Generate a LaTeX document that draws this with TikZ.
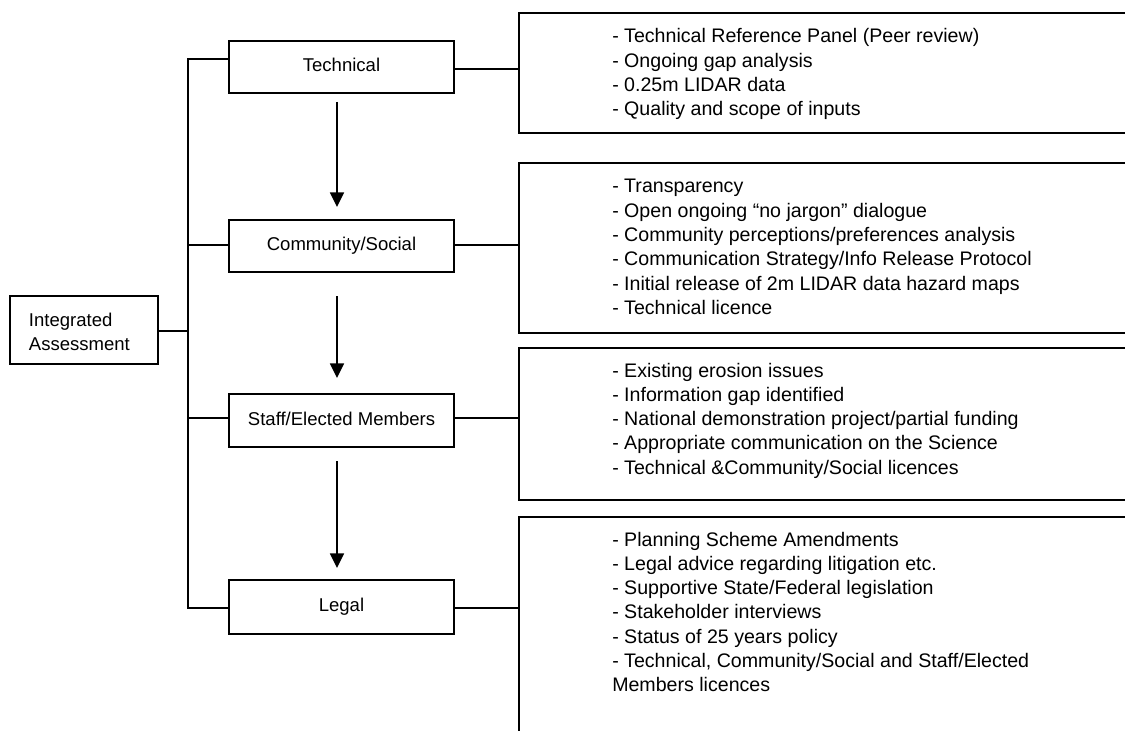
\documentclass[tikz,border=0pt]{standalone}
\usepackage{fontspec}
\setmainfont{Liberation Sans}
\usetikzlibrary{arrows.meta}
\tikzset{
  px/.style={x=0.75pt,y=-0.75pt},
  ln/.style={line width=1.3pt,black},
  lbox/.style={draw,ln,rectangle,inner sep=0pt,minimum width=168.75pt},
  rbox/.style={draw,ln,rectangle,inner sep=0pt,anchor=north west,minimum width=525pt},
  ltext/.style={anchor=base,inner sep=0pt,font=\fontsize{13.9}{18}\selectfont},
  iatext/.style={anchor=base west,inner sep=0pt,font=\fontsize{13.9}{18}\selectfont},
  rtext/.style={anchor=base west,inner sep=0pt,font=\fontsize{14.7}{18.2}\selectfont},
  arr/.style={ln,-{Triangle[width=10.5pt,length=11pt]}}
}
\begin{document}
\begin{tikzpicture}[px]
\useasboundingbox (0,0) rectangle (1125,731);
\clip (0,0) rectangle (1125,731);
\fill[white] (0,0) rectangle (1125,731);
% left column boxes
\node[lbox,minimum width=111pt,minimum height=51pt] (ia) at (84,330) {};
\node[iatext] (ia1) at (28.7,326.7) {Integrated};
\node[iatext] (ia2) at (28.7,350.7) {Assessment};
\node[lbox,minimum height=39pt] (tech) at (341.5,67) {};
\node[ltext] (techl) at (341.5,71.5) {Technical};
\node[lbox,minimum height=39pt] (comm) at (341.5,246) {};
\node[ltext] (comml) at (341.5,251) {Community/Social};
\node[lbox,minimum height=39.75pt] (staff) at (341.5,420.5) {};
\node[ltext] (staffl) at (341.5,425.5) {Staff/Elected Members};
\node[lbox,minimum height=40.5pt] (legal) at (341.5,607) {};
\node[ltext] (legall) at (341.5,611.5) {Legal};
% bracket
\coordinate (bia) at (188,331);
\coordinate (bt) at (188,59);
\coordinate (bc) at (188,245);
\coordinate (bs) at (188,418);
\coordinate (bl) at (188,608);
\draw[ln] (ia.east |- bia) -- (bia);
\draw[ln] (tech.west |- bt) -- (bt) -- (bl) -- (legal.west |- bl);
\draw[ln] (bc) -- (comm.west |- bc);
\draw[ln] (bs) -- (staff.west |- bs);
% right boxes
\node[rbox,minimum height=90pt] (r1) at (518,12) {};
\node[rbox,minimum height=127.5pt] (r2) at (518,162) {};
\node[rbox,minimum height=114pt] (r3) at (518,347) {};
\node[rbox,minimum height=195pt] (r4) at (518,516) {};
\coordinate (c1) at (518,69);
\coordinate (c2) at (518,245);
\coordinate (c3) at (518,418);
\coordinate (c4) at (518,608);
\draw[ln] (tech.east |- c1) -- (c1);
\draw[ln] (comm.east |- c2) -- (c2);
\draw[ln] (staff.east |- c3) -- (c3);
\draw[ln] (legal.east |- c4) -- (c4);
% arrows
\coordinate (a1s) at (337,102); \coordinate (a1e) at (337,207);
\coordinate (a2s) at (337,296); \coordinate (a2e) at (337,378);
\coordinate (a3s) at (337,461); \coordinate (a3e) at (337,568);
\draw[arr] (a1s) -- (a1e);
\draw[arr] (a2s) -- (a2e);
\draw[arr] (a3s) -- (a3e);
% right texts
\foreach \t [count=\i] in {{- Technical Reference Panel (Peer review)},{- Ongoing gap analysis},{- 0.25m LIDAR data},{- Quality and scope of inputs}}
  \node[rtext] (ta\i) at (612,{43+24.3*(\i-1)}) {\t};
\foreach \t [count=\i] in {{- Transparency},{- Open ongoing “no jargon” dialogue},{- Community perceptions/preferences analysis},{- Communication Strategy/Info Release Protocol},{- Initial release of 2m LIDAR data hazard maps},{- Technical licence}}
  \node[rtext] (tb\i) at (612,{193+24.3*(\i-1)}) {\t};
\foreach \t [count=\i] in {{- Existing erosion issues},{- Information gap identified},{- National demonstration project/partial funding},{- Appropriate communication on the Science},{- Technical \&Community/Social licences}}
  \node[rtext] (tc\i) at (612,{377+24.3*(\i-1)}) {\t};
\foreach \t [count=\i] in {{- Planning Scheme Amendments},{- Legal advice regarding litigation etc.},{- Supportive State/Federal legislation},{- Stakeholder interviews},{- Status of 25 years policy},{- Technical, Community/Social and Staff/Elected},{Members licences}}
  \node[rtext] (td\i) at (612,{546+24.3*(\i-1)}) {\t};
\end{tikzpicture}
\end{document}
